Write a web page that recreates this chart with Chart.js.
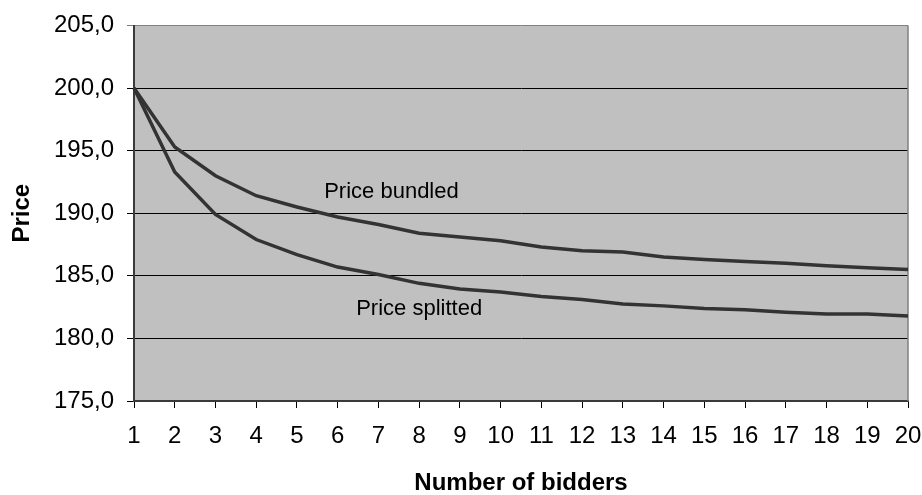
<!DOCTYPE html>
<html>
<head>
<meta charset="utf-8">
<script src="https://cdn.jsdelivr.net/npm/chart.js@4"></script>
<style>
  body { margin: 0; background: #fff; }
  #wrap { width: 922px; height: 495px; }
</style>
</head>
<body>
<div id="wrap"><canvas id="priceChart" width="922" height="495"></canvas></div>
<script>
//========================
// Data
//========================
const bidders = ['1','2','3','4','5','6','7','8','9','10','11','12','13','14','15','16','17','18','19','20'];
const priceBundled = [200.0, 195.3, 193.0, 191.4, 190.5, 189.7, 189.1, 188.4, 188.1, 187.8,
                      187.3, 187.0, 186.9, 186.5, 186.3, 186.15, 186.0, 185.8, 185.65, 185.5];
const priceSplitted = [200.0, 193.3, 189.9, 187.9, 186.7, 185.7, 185.1, 184.4, 183.95, 183.7,
                       183.35, 183.1, 182.75, 182.6, 182.4, 182.3, 182.1, 181.95, 181.95, 181.8];
const yTicks = [175, 180, 185, 190, 195, 200, 205];

const FONT = "'Liberation Sans', Arial, sans-serif";

//========================
// Plot area + series labels
//========================
const plotBackground = {
  id: 'plotBackground',
  beforeDraw(chart) {
    const { ctx, chartArea: a } = chart;
    ctx.save();
    ctx.fillStyle = '#c0c0c0';
    ctx.fillRect(a.left, a.top, a.right - a.left, a.bottom - a.top);
    ctx.restore();
  },
  beforeDatasetsDraw(chart) {
    const { ctx, chartArea: a } = chart;
    ctx.save();
    ctx.strokeStyle = '#808080';
    ctx.lineWidth = 1.5;
    ctx.beginPath();
    ctx.moveTo(a.right, a.top);
    ctx.lineTo(a.right, a.bottom);
    ctx.stroke();
    ctx.restore();
  }
};

const seriesLabels = {
  id: 'seriesLabels',
  afterDatasetsDraw(chart) {
    const { ctx, scales } = chart;
    const labels = [
      { text: 'Price bundled', at: 6.32, value: 191.7 },
      { text: 'Price splitted', at: 7.0, value: 182.38 }
    ];
    ctx.save();
    ctx.fillStyle = '#000';
    ctx.font = '22px ' + FONT;
    ctx.textAlign = 'center';
    ctx.textBaseline = 'middle';
    labels.forEach(l => {
      ctx.fillText(l.text, scales.x.getPixelForValue(l.at), scales.y.getPixelForValue(l.value));
    });
    ctx.restore();
  }
};

//========================
// Chart
//========================
const ctx = document.getElementById('priceChart').getContext('2d');

new Chart(ctx, {
  type: 'line',
  data: {
    labels: bidders,
    datasets: [
      {
        label: 'Price bundled',
        data: priceBundled,
        borderColor: '#333333',
        borderWidth: 3.5,
        pointRadius: 0,
        tension: 0,
        fill: false
      },
      {
        label: 'Price splitted',
        data: priceSplitted,
        borderColor: '#333333',
        borderWidth: 3.5,
        pointRadius: 0,
        tension: 0,
        fill: false
      }
    ]
  },
  options: {
    responsive: false,
    animation: false,
    layout: { padding: { top: 25.5, right: 14, bottom: 0, left: 0 } },
    plugins: {
      legend: { display: false },
      tooltip: { enabled: false }
    },
    scales: {
      x: {
        offset: false,
        border: { display: true, color: '#3a3a3a', width: 2 },
        grid: { drawOnChartArea: false, drawTicks: true, tickLength: 7, color: '#000' },
        ticks: {
          autoSkip: false,
          maxRotation: 0,
          padding: 14,
          color: '#000',
          font: { family: FONT, size: 24 }
        },
        title: {
          display: true,
          text: 'Number of bidders',
          color: '#000',
          padding: { top: 0, bottom: 0 },
          font: { family: FONT, size: 24, weight: 'bold', lineHeight: 1 }
        },
        afterFit(scale) {
          scale.height = 94;
          scale.paddingLeft = 0;
          scale.paddingRight = 0;
        }
      },
      y: {
        min: 175,
        max: 205,
        border: { display: true, color: '#3a3a3a', width: 2 },
        grid: {
          color: c => (c.tick && c.tick.value === 205 ? '#808080' : '#000'),
          lineWidth: 1,
          tickLength: 7
        },
        afterBuildTicks(scale) {
          scale.ticks = yTicks.map(v => ({ value: v }));
        },
        ticks: {
          padding: 13,
          color: '#000',
          font: { family: FONT, size: 24 },
          callback: v => Number(v).toFixed(1).replace('.', ',')
        },
        title: {
          display: true,
          text: 'Price',
          color: '#000',
          padding: { top: 10, bottom: 0 },
          font: { family: FONT, size: 24, weight: 'bold', lineHeight: 1 }
        },
        afterFit(scale) {
          scale.width = 134;
          scale.paddingTop = 0;
          scale.paddingBottom = 0;
        }
      }
    }
  },
  plugins: [plotBackground, seriesLabels]
});
</script>
</body>
</html>
